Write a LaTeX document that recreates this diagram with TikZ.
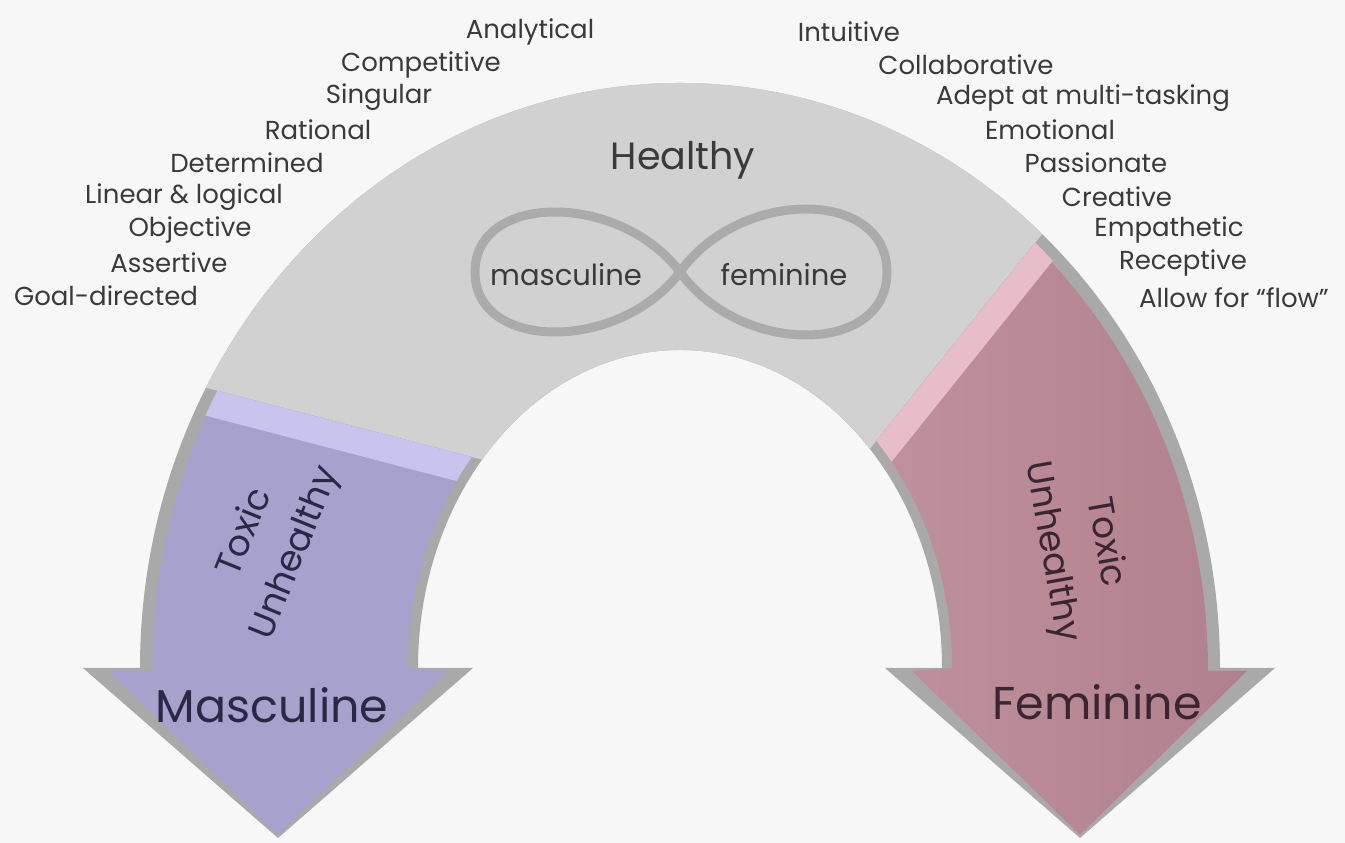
\documentclass[tikz,border=0pt]{standalone}
\usepackage{fontspec}
\setmainfont{Poppins}
\usepackage{tikz}

\definecolor{paper}{HTML}{F7F7F7}
\definecolor{archgray}{HTML}{D1D1D1}
\definecolor{shadowgray}{HTML}{A9A9A9}
\definecolor{loopgray}{HTML}{ABABAB}
\definecolor{wordgray}{HTML}{3A3A3A}
\definecolor{mascfill}{HTML}{A7A1CD}
\definecolor{masclight}{HTML}{C9C4EE}
\definecolor{mascink}{HTML}{2B2745}
\definecolor{femlight}{HTML}{C799A5}
\definecolor{femdark}{HTML}{B1808E}
\definecolor{femtop}{HTML}{E6BDC8}
\definecolor{femink}{HTML}{3B2530}

\begin{document}
\begin{tikzpicture}[x=1pt,y=1pt,
    trait/.style={text=wordgray,font=\fontsize{26}{28}\selectfont,inner sep=0pt},
    side/.style={font=\fontsize{46}{50}\selectfont,inner sep=0pt},
    toxic/.style={font=\fontsize{36}{54}\selectfont,align=center,inner sep=0pt},
    inner/.style={text=wordgray,font=\fontsize{29}{31}\selectfont,inner sep=0pt}]
    \useasboundingbox (0,0) rectangle (1345,843);
    \fill[paper] (0,0) rectangle (1345,843);

    % the whole arch arrow, dark layer
    \fill[shadowgray] (83,175) -- (140,175) arc[start angle=180,end angle=0,x radius=540,y radius=585]
        -- (1275,175) -- (1080,5) -- (885,175) -- (942,175)
        arc[start angle=0,end angle=180,x radius=262,y radius=318] -- (473,175) -- (278,5) -- cycle;

    % light top of the arch
    \begin{scope}
        \clip (0,843) -- (0,509) -- (560,363) -- (820,332) -- (1230,843) -- cycle;
        \fill[archgray] (140,175) arc[start angle=180,end angle=0,x radius=540,y radius=585]
            -- (942,175) arc[start angle=0,end angle=180,x radius=262,y radius=318] -- cycle;
    \end{scope}

    % masculine arm
    \begin{scope}
        \clip (0,0) -- (0,509) -- (560,363) -- (560,0) -- cycle;
        \fill[mascfill] (108,172) -- (152,172) arc[start angle=180,end angle=90,x radius=528,y radius=575]
            -- (680,503) arc[start angle=90,end angle=180,x radius=272,y radius=328]
            -- (448,172) -- (278,8) -- cycle;
        \clip (152,175) arc[start angle=180,end angle=90,x radius=528,y radius=575]
            -- (680,503) arc[start angle=90,end angle=180,x radius=272,y radius=328] -- cycle;
        \fill[masclight] (0,509) -- (560,363) -- (560,335) -- (0,481) -- cycle;
    \end{scope}

    % feminine arm
    \begin{scope}
        \clip (820,332) -- (1230,843) -- (1345,843) -- (1345,0) -- (820,0) -- cycle;
        \shade[left color=femlight,right color=femdark] (1247,172) -- (1208,172)
            arc[start angle=0,end angle=90,x radius=528,y radius=575]
            -- (680,503) arc[start angle=90,end angle=0,x radius=272,y radius=328]
            -- (912,172) -- (1080,8) -- cycle;
        \clip (1208,175) arc[start angle=0,end angle=90,x radius=528,y radius=575]
            -- (680,503) arc[start angle=90,end angle=0,x radius=272,y radius=328] -- cycle;
        \fill[femtop] (820,332) -- (1230,843) -- (1262,843) -- (852,332) -- cycle;
    \end{scope}

    % infinity loop
    \draw[loopgray,line width=9pt] (680,571) .. controls (620,651) and (475,651) .. (475,571)
        .. controls (475,491) and (620,491) .. (680,571)
        .. controls (740,655) and (887,655) .. (887,571)
        .. controls (887,487) and (740,487) .. cycle;

    \node[trait] (healthy) at (683,683) {\fontsize{38}{40}\selectfont Healthy};
    \node[inner] (mascin) at (566,568) {masculine};
    \node[inner] (femin) at (784,568) {feminine};

    % masculine traits
    \node[trait] (analytical) at (530,811) {Analytical};
    \node[trait] (competitive) at (421,778) {Competitive};
    \node[trait] (singular) at (379,746) {Singular};
    \node[trait] (rational) at (318,713) {Rational};
    \node[trait] (determined) at (247,680) {Determined};
    \node[trait] (linear) at (184,646) {Linear \& logical};
    \node[trait] (objective) at (190,613) {Objective};
    \node[trait] (assertive) at (169,580) {Assertive};
    \node[trait] (goal) at (106,547) {Goal-directed};

    % feminine traits
    \node[trait] (intuitive) at (849,811) {Intuitive};
    \node[trait] (collab) at (966,778) {Collaborative};
    \node[trait] (adept) at (1083,745) {Adept at multi-tasking};
    \node[trait] (emotional) at (1050,713) {Emotional};
    \node[trait] (passionate) at (1096,680) {Passionate};
    \node[trait] (creative) at (1117,646) {Creative};
    \node[trait] (empathetic) at (1169,613) {Empathetic};
    \node[trait] (receptive) at (1183,580) {Receptive};
    \node[trait] (flow) at (1234,545) {Allow for ``flow''};

    % arm labels
    \node[toxic,text=mascink,rotate=68] (mtoxic) at (271,300) {Toxic\\Unhealthy};
    \node[toxic,text=femink,rotate=-80] (ftoxic) at (1078,296) {Toxic\\Unhealthy};
    \node[side,text=mascink] (masc) at (272,138) {Masculine};
    \node[side,text=femink] (fem) at (1097,141) {Feminine};
\end{tikzpicture}
\end{document}
